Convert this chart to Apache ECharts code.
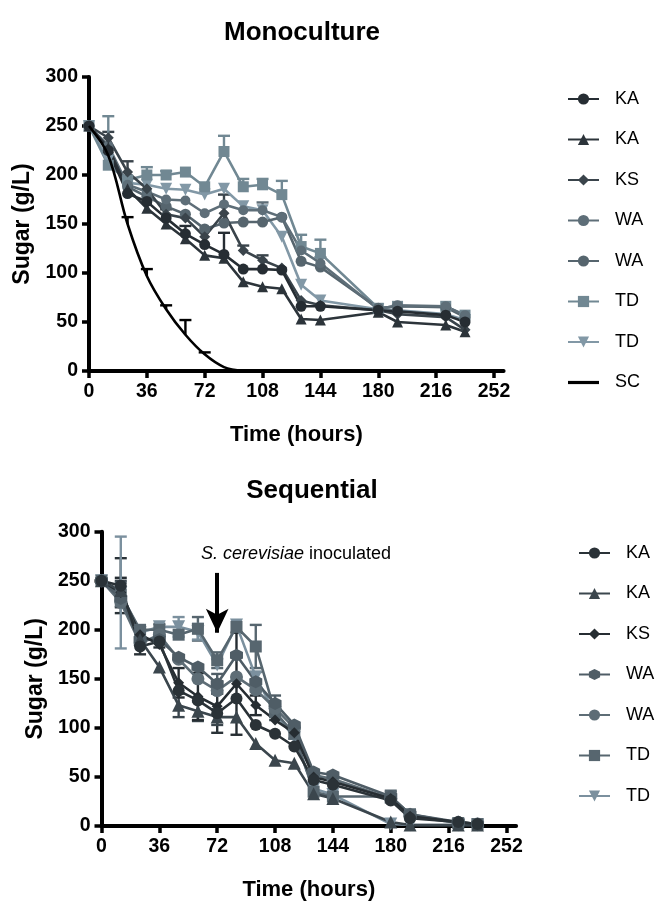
<!DOCTYPE html>
<html><head><meta charset="utf-8">
<script src="https://cdn.jsdelivr.net/npm/echarts@6/dist/echarts.min.js"></script>
<style>html,body{margin:0;padding:0;background:#fff}#c{width:664px;height:902px}</style>
</head><body><div id="c"></div>
<script>
// ---------- DATA ----------
const xTicks = [0, 36, 72, 108, 144, 180, 216, 252];
const times = [0, 12, 24, 36, 48, 60, 72, 84, 96, 108, 120, 132, 144, 180, 192, 222, 234];

// Monoculture (g/L)
const monoKA1 = [250, 225, 181, 173, 156, 140, 129, 119, 104, 104, 103, 66, 66, 62, 61, 57, 50];
const monoKA2 = [250, 228, 186, 166, 150, 135, 118, 115, 91, 86, 84, 53, 52, 60, 50, 47, 40];
const monoKS  = [250, 238, 203, 186, 160, 156, 137, 161, 123, 113, 105, 72, 67, 62, 58, 55, 42];
const monoWA1 = [250, 230, 190, 183, 175, 174, 161, 170, 164, 164, 157, 123, 110, 63, 67, 66, 57];
const monoWA2 = [250, 228, 188, 178, 168, 160, 145, 151, 152, 152, 157, 112, 106, 64, 66, 65, 55];
const monoTD1 = [250, 210, 195, 200, 200, 203, 188, 224, 188, 190, 180, 127, 120, 64, 66, 66, 57];
const monoTD2 = [250, 215, 192, 190, 186, 185, 180, 186, 168, 164, 137, 88, 72, 63, 62, 58, 52];
const scTimes = [0, 12, 24, 36, 48, 60, 72, 84, 96];
const monoSC  = [250, 220, 150, 97, 63, 37, 17, 4, 0];
// Monoculture error (SD, upward bars)
const monoKA1Err = [0, 0, 0, 0, 0, 8, 0, 22, 0, 0, 0, 0, 0, 0, 0, 0, 0];
const monoKA2Err = [0, 0, 0, 0, 0, 0, 0, 0, 0, 0, 0, 0, 0, 0, 0, 0, 0];
const monoKSErr  = [0, 6, 11, 0, 5, 0, 0, 19, 5, 5, 0, 0, 0, 0, 0, 0, 0];
const monoWA1Err = [0, 0, 0, 0, 0, 0, 0, 0, 0, 8, 0, 0, 6, 0, 0, 0, 0];
const monoTD1Err = [0, 50, 0, 8, 4, 0, 0, 16, 8, 6, 14, 12, 14, 0, 0, 0, 0];
const monoSCErr  = [0, 0, 7, 7, 4, 15, 2, 0, 0];

// Sequential (g/L)
const seqKA1 = [250, 245, 183, 188, 138, 128, 115, 130, 103, 94, 81, 47, 42, 26, 8, 4, 2];
const seqKA2 = [250, 240, 190, 162, 123, 117, 111, 111, 84, 67, 64, 33, 28, 4, 1, 1, 1];
const seqKS  = [250, 238, 195, 185, 146, 132, 122, 145, 123, 108, 95, 50, 45, 28, 10, 4, 2];
const seqWA1 = [250, 232, 190, 190, 172, 162, 145, 174, 147, 125, 103, 55, 52, 30, 12, 4, 2];
const seqWA2 = [250, 228, 186, 195, 170, 150, 138, 152, 139, 120, 100, 52, 48, 28, 10, 3, 2];
const seqTD1 = [250, 236, 200, 200, 195, 201, 169, 203, 183, 116, 94, 35, 30, 30, 12, 3, 2];
const seqTD2 = [250, 238, 197, 203, 203, 198, 164, 205, 152, 115, 90, 38, 32, 2, 1, 1, 1];
// Sequential error (SD, symmetric bars)
const seqKA1Err = [0, 28, 8, 6, 0, 0, 20, 0, 0, 0, 0, 0, 0, 0, 0, 0, 0];
const seqKA2Err = [0, 10, 0, 0, 12, 10, 8, 0, 0, 0, 0, 0, 0, 0, 0, 0, 0];
const seqKSErr  = [0, 15, 8, 0, 15, 24, 0, 52, 10, 0, 0, 0, 0, 0, 0, 0, 0];
const seqWA1Err = [0, 0, 0, 0, 0, 0, 10, 0, 10, 8, 0, 0, 0, 0, 0, 0, 0];
const seqTD1Err = [0, 12, 0, 6, 0, 12, 8, 0, 22, 8, 5, 0, 0, 6, 4, 0, 0];
const seqTD2Err = [0, 57, 0, 0, 10, 8, 0, 0, 0, 0, 0, 0, 0, 0, 0, 0, 0];

const legendLabels = ['KA', 'KA', 'KS', 'WA', 'WA', 'TD', 'TD', 'SC'];
const annotation = 'S. cerevisiae';
const annotationRest = ' inoculated';
const arrowTop = 258, arrowTip = 197, arrowTime = 72;

// ---------- CHART ----------
const FONT = 'Liberation Sans, Arial, sans-serif';
const HEX = 'path://M50,0 L93.3,25 L93.3,75 L50,100 L6.7,75 L6.7,25 Z';
const TRI_DOWN = 'path://M0,0 L100,0 L50,90 Z';

function pair(ts, vs) { return ts.map((t, i) => [t, vs[i]]); }

function lineS(name, ts, vs, color, symbol, size, gi, extra) {
  return Object.assign({
    type: 'line', name: name, xAxisIndex: gi, yAxisIndex: gi,
    data: pair(ts, vs), color: color, symbol: symbol, symbolSize: size,
    showSymbol: true, lineStyle: { width: 2.6, color: color },
    itemStyle: { color: color, borderWidth: 0 }, z: 3, animation: false
  }, extra || {});
}

function errS(ts, vs, es, color, gi, upOnly, capHalf) {
  const data = [];
  ts.forEach((t, i) => { if (es[i] > 0) data.push([t, vs[i], es[i]]); });
  return {
    type: 'custom', coordinateSystem: 'cartesian2d', xAxisIndex: gi, yAxisIndex: gi,
    data: data, z: 2, silent: true, animation: false, encode: { x: 0, y: 1 },
    renderItem: function (params, api) {
      const x = api.value(0), v = api.value(1), e = api.value(2);
      const top = api.coord([x, v + e]);
      const bot = api.coord([x, upOnly ? v : v - e]);
      const st = { stroke: color, lineWidth: 2.4 };
      const ch = [
        { type: 'line', shape: { x1: top[0], y1: top[1], x2: bot[0], y2: bot[1] }, style: st },
        { type: 'line', shape: { x1: top[0] - capHalf, y1: top[1], x2: top[0] + capHalf, y2: top[1] }, style: st }
      ];
      if (!upOnly) ch.push({ type: 'line', shape: { x1: bot[0] - capHalf, y1: bot[1], x2: bot[0] + capHalf, y2: bot[1] }, style: st });
      return { type: 'group', children: ch };
    }
  };
}

const Z = '\u200b';
const mc = { KA1: '#262d33', KA2: '#2c343a', KS: '#3a444b', WA1: '#5e6e78', WA2: '#56656e', TD1: '#718893', TD2: '#8298a6' };
const sc = { KA1: '#2a3237', KA2: '#3b464d', KS: '#262d32', WA1: '#4f5d66', WA2: '#5e6d76', TD1: '#57666f', TD2: '#7b909e' };

const topNames = ['KA', 'KA ', 'KS', 'WA', 'WA ', 'TD', 'TD ', 'SC'];
const botNames = ['KA' + Z, 'KA ' + Z, 'KS' + Z, 'WA' + Z, 'WA ' + Z, 'TD' + Z, 'TD ' + Z];

function xAx(gi) {
  return {
    type: 'value', gridIndex: gi, min: 0, max: 258,
    name: 'Time (hours)', nameLocation: 'middle', nameGap: 53,
    nameTextStyle: { fontFamily: FONT, fontWeight: 'bold', fontSize: 22, color: '#000' },
    axisLine: { show: true, onZero: false, lineStyle: { color: '#000', width: 4 } },
    axisTick: { show: true, length: 7, inside: false, customValues: xTicks, lineStyle: { color: '#000', width: 3.5 } },
    axisLabel: { customValues: xTicks, margin: 11, fontFamily: FONT, fontWeight: 'bold', fontSize: 19.5, color: '#000' },
    splitLine: { show: false }
  };
}
function yAx(gi) {
  return {
    type: 'value', gridIndex: gi, min: 0, max: 300, interval: 50,
    name: 'Sugar (g/L)', nameLocation: 'middle', nameGap: 53, nameRotate: 90,
    nameTextStyle: { fontFamily: FONT, fontWeight: 'bold', fontSize: 23, color: '#000' },
    axisLine: { show: true, onZero: false, lineStyle: { color: '#000', width: 4 } },
    axisTick: { show: true, length: 7, inside: false, lineStyle: { color: '#000', width: 3.5 } },
    axisLabel: { margin: 11, fontFamily: FONT, fontWeight: 'bold', fontSize: 19.5, color: '#000' },
    splitLine: { show: false }
  };
}

const series = [
  // monoculture error bars
  errS(times, monoKA1, monoKA1Err, mc.KA1, 0, true, 6),
  errS(times, monoKA2, monoKA2Err, mc.KA2, 0, true, 6),
  errS(times, monoKS, monoKSErr, mc.KS, 0, true, 6),
  errS(times, monoWA1, monoWA1Err, mc.WA1, 0, true, 6),
  errS(times, monoTD1, monoTD1Err, mc.TD1, 0, true, 6),
  errS(scTimes, monoSC, monoSCErr, '#000', 0, true, 6),
  // monoculture lines
  lineS(topNames[6], times, monoTD2, mc.TD2, TRI_DOWN, 12, 0),
  lineS(topNames[5], times, monoTD1, mc.TD1, 'rect', 11, 0),
  lineS(topNames[4], times, monoWA2, mc.WA2, 'circle', 11, 0),
  lineS(topNames[3], times, monoWA1, mc.WA1, 'circle', 10, 0),
  lineS(topNames[2], times, monoKS, mc.KS, 'diamond', 11, 0),
  lineS(topNames[1], times, monoKA2, mc.KA2, 'triangle', 11, 0),
  lineS(topNames[0], times, monoKA1, mc.KA1, 'circle', 11, 0),
  lineS(topNames[7], scTimes, monoSC, '#000', 'none', 0, 0, { smooth: 0.35, showSymbol: false, lineStyle: { width: 2.6, color: '#000' }, z: 4 }),
  // sequential error bars
  errS(times, seqKA1, seqKA1Err, sc.KA1, 1, false, 6),
  errS(times, seqKA2, seqKA2Err, sc.KA2, 1, false, 6),
  errS(times, seqKS, seqKSErr, sc.KS, 1, false, 6),
  errS(times, seqWA1, seqWA1Err, sc.WA1, 1, false, 6),
  errS(times, seqTD1, seqTD1Err, sc.TD1, 1, false, 6),
  errS(times, seqTD2, seqTD2Err, sc.TD2, 1, false, 6),
  // sequential lines
  lineS(botNames[6], times, seqTD2, sc.TD2, TRI_DOWN, 13, 1),
  lineS(botNames[5], times, seqTD1, sc.TD1, 'rect', 12, 1),
  lineS(botNames[4], times, seqWA2, sc.WA2, 'circle', 13, 1),
  lineS(botNames[3], times, seqWA1, sc.WA1, HEX, 13, 1),
  lineS(botNames[2], times, seqKS, sc.KS, 'diamond', 11, 1),
  lineS(botNames[1], times, seqKA2, sc.KA2, 'triangle', 13, 1),
  lineS(botNames[0], times, seqKA1, sc.KA1, 'circle', 12, 1, {
    markLine: {
      silent: true, animation: false, symbol: ['none', 'arrow'], symbolSize: [17, 24],
      label: { show: false },
      lineStyle: { color: '#000', width: 4, type: 'solid' },
      data: [[{ coord: [arrowTime, arrowTop] }, { coord: [arrowTime, arrowTip] }]]
    }
  })
];

const labelMap = {};
topNames.forEach((n, i) => labelMap[n] = legendLabels[i]);
botNames.forEach((n, i) => labelMap[n] = legendLabels[i]);

const legendCommon = {
  orient: 'vertical', itemWidth: 31, itemHeight: 14, itemGap: 22.5, padding: 0,
  textStyle: { fontFamily: FONT, fontSize: 18, color: '#000', padding: [0, 0, 0, 11] },
  formatter: n => labelMap[n], selectedMode: false
};
const topLegendData = topNames.map(n => n === 'SC'
  ? { name: n, icon: 'path://M0,0 L31,0 L31,3.2 L0,3.2 Z', itemStyle: { color: '#000' } }
  : n);

const option = {
  backgroundColor: '#fff',
  animation: false,
  title: [
    { text: 'Monoculture', left: 297, top: 15, textAlign: 'center', textStyle: { fontFamily: FONT, fontWeight: 'bold', fontSize: 26, color: '#000' } },
    { text: 'Sequential', left: 307, top: 473, textAlign: 'center', textStyle: { fontFamily: FONT, fontWeight: 'bold', fontSize: 26, color: '#000' } },
    { text: '{i|' + annotation + '}' + annotationRest, left: 196, top: 540,
      textStyle: { fontFamily: FONT, fontSize: 18, fontWeight: 'normal', color: '#000', rich: { i: { fontFamily: FONT, fontSize: 18, fontStyle: 'italic', color: '#000' } } } }
  ],
  grid: [
    { left: 89, top: 77, width: 414.6, height: 294, containLabel: false },
    { left: 101.5, top: 531.7, width: 414.6, height: 294.3, containLabel: false }
  ],
  xAxis: [xAx(0), xAx(1)],
  yAxis: [yAx(0), yAx(1)],
  legend: [
    Object.assign({}, legendCommon, { left: 567, top: 90, data: topLegendData }),
    Object.assign({}, legendCommon, { left: 578, top: 544, data: botNames })
  ],
  series: series
};

const chart = echarts.init(document.getElementById('c'), null, { renderer: 'canvas' });
chart.setOption(option);
</script>
</body></html>
